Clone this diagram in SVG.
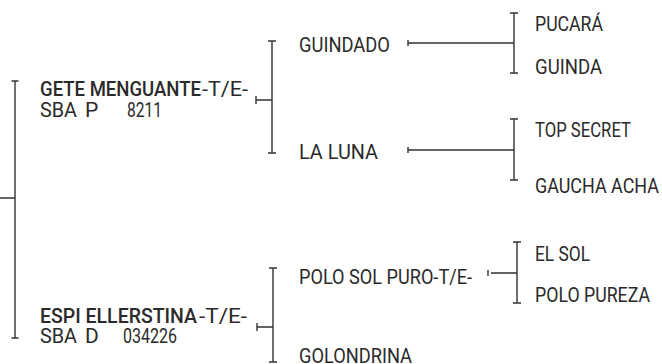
<svg xmlns="http://www.w3.org/2000/svg" width="662" height="364" viewBox="0 0 662 364">
<style>
text{font-family:Roboto,"Liberation Sans",sans-serif;font-size:21px;fill:#2a2a2a}
.b{font-weight:500}
.ln{stroke:#333;stroke-width:1.4;fill:none}
</style>
<rect width="662" height="364" fill="#fff"/>
<g id="connectors" class="ln">
<path d="M0 198H15M15 81V338M11.5 81H18.5M11.5 338H18.5"/>
<path d="M272 41V153M268 41H276M268 153H276M256 100H272M256 96V104"/>
<path d="M408 43H514M408 40V46M514 13V73M510 13H518M510 73H518"/>
<path d="M408 150H514M408 147V153M514 119V180M510 119H518M510 180H518"/>
<path d="M273 268V362M269 268H277M269 362H277M257 327H273M257 323V331"/>
<path d="M491 273H517M488 270V276M517 242V303M513 242H521M513 303H521"/>
</g>
<g id="gete"><text x="40" y="96" class="b" textLength="161" lengthAdjust="spacingAndGlyphs">GETE MENGUANTE</text><text x="202" y="96" textLength="46" lengthAdjust="spacingAndGlyphs">-T/E-</text><text x="40" y="117" textLength="37" lengthAdjust="spacingAndGlyphs">SBA</text><text x="85" y="117">P</text><text x="127" y="117" textLength="35" lengthAdjust="spacingAndGlyphs">8211</text></g>
<g id="espi"><text x="40" y="323" class="b" textLength="157" lengthAdjust="spacingAndGlyphs">ESPI ELLERSTINA</text><text x="199" y="323" textLength="48" lengthAdjust="spacingAndGlyphs">-T/E-</text><text x="40" y="343" textLength="37" lengthAdjust="spacingAndGlyphs">SBA</text><text x="85" y="343">D</text><text x="123" y="343" textLength="54" lengthAdjust="spacingAndGlyphs">034226</text></g>
<g id="guindado"><text x="299" y="52" textLength="91" lengthAdjust="spacingAndGlyphs">GUINDADO</text></g>
<g id="laluna"><text x="299" y="159" textLength="79" lengthAdjust="spacingAndGlyphs">LA LUNA</text></g>
<g id="polosolpuro"><text x="299" y="284" textLength="173" lengthAdjust="spacingAndGlyphs">POLO SOL PURO-T/E-</text></g>
<g id="golondrina"><text x="299" y="363" textLength="113" lengthAdjust="spacingAndGlyphs">GOLONDRINA</text></g>
<g id="pucara"><text x="535" y="31" textLength="68" lengthAdjust="spacingAndGlyphs">PUCARÁ</text></g>
<g id="guinda"><text x="535" y="74" textLength="67" lengthAdjust="spacingAndGlyphs">GUINDA</text></g>
<g id="topsecret"><text x="535" y="137" textLength="96" lengthAdjust="spacingAndGlyphs">TOP SECRET</text></g>
<g id="gauchaacha"><text x="535" y="193" textLength="124" lengthAdjust="spacingAndGlyphs">GAUCHA ACHA</text></g>
<g id="elsol"><text x="535" y="261" textLength="55" lengthAdjust="spacingAndGlyphs">EL SOL</text></g>
<g id="polopureza"><text x="535" y="302" textLength="115" lengthAdjust="spacingAndGlyphs">POLO PUREZA</text></g>
</svg>
